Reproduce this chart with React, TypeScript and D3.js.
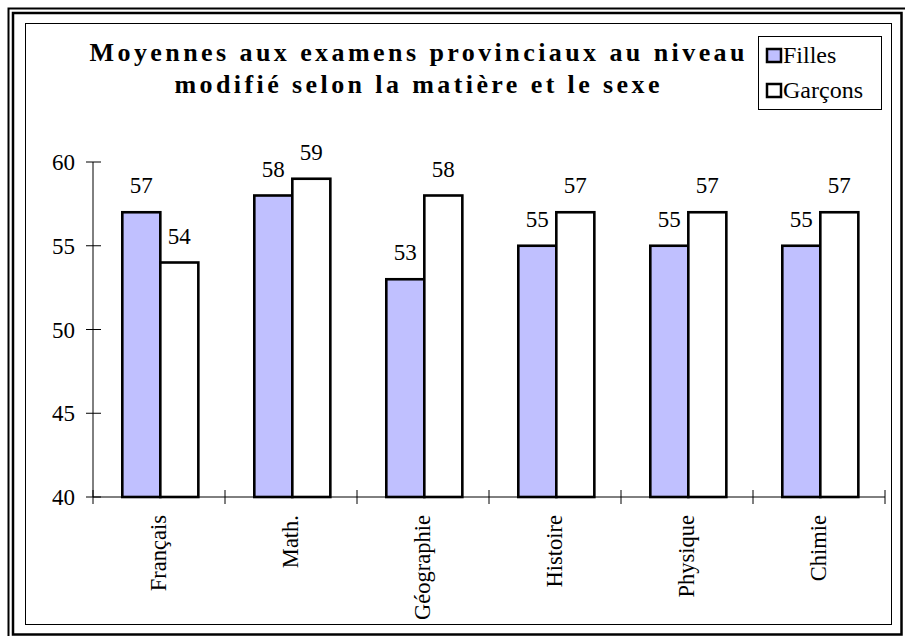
import React from "react";
import * as d3 from "d3";

const categories = ["Français", "Math.", "Géographie", "Histoire", "Physique", "Chimie"];
const filles = [57, 58, 53, 55, 55, 55];
const garcons = [54, 59, 58, 57, 57, 57];
const yTicks = [40, 45, 50, 55, 60];
const seriesNames = ["Filles", "Garçons"];
const seriesColors = ["#C0C0FF", "#FFFFFF"];
const titleLines = ["Moyennes aux examens provinciaux au niveau", "modifié selon la matière et le sexe"];

const W = 905;
const H = 636;
const FONT = "'Liberation Serif', 'Times New Roman', serif";

export default function App() {
  const plotLeft = 93;
  const plotRight = 885;
  const plotTop = 162;
  const plotBottom = 497;

  const x = d3.scaleBand<string>().domain(categories).range([plotLeft, plotRight]).paddingInner(0).paddingOuter(0);
  const y = d3.scaleLinear().domain([40, 60]).range([plotBottom, plotTop]);
  const bw = x.bandwidth();
  const inner = d3.scaleBand<number>().domain([0, 1]).range([bw * 0.222, bw * 0.798]).padding(0);

  const series = [filles, garcons];
  const txt = { fontFamily: FONT };

  return (
    <svg width={W} height={H} style={{ position: "absolute", left: 0, top: 0, background: "#fff" }}>
      <rect x={0} y={0} width={W} height={H} fill="#fff" />
      {/* outer frames */}
      <rect x={8.5} y={8.5} width={898} height={632} fill="none" stroke="#000" strokeWidth={2} />
      <rect x={13} y={13} width={888.5} height={621.5} fill="none" stroke="#000" strokeWidth={2.5} />
      <rect x={25.5} y={23.5} width={866} height={601} fill="none" stroke="#000" strokeWidth={1} />

      {/* title */}
      {titleLines.map((t, i) => (
        <text
          key={i}
          x={417}
          y={61 + i * 32}
          textAnchor="middle"
          style={{ ...txt, fontWeight: 700, fontSize: "26px" }}
          textLength={i === 0 ? 655 : 485}
          lengthAdjust="spacing"
        >
          {t}
        </text>
      ))}

      {/* legend */}
      <rect x={758.5} y={36.5} width={123} height={73} fill="#fff" stroke="#000" strokeWidth={1} />
      {seriesNames.map((s, i) => (
        <g key={s}>
          <rect x={767} y={49 + i * 35} width={14} height={13} fill={seriesColors[i]} stroke="#000" strokeWidth={2.5} />
          <text x={783} y={63 + i * 35} style={{ ...txt, fontSize: "24px" }}>
            {s}
          </text>
        </g>
      ))}

      {/* bars */}
      {categories.map((c, ci) => (
        <g key={c}>
          {series.map((vals, si) => {
            const bx = (x(c) as number) + (inner(si) as number);
            const by = y(vals[ci]);
            return (
              <g key={si}>
                <rect
                  x={bx}
                  y={by}
                  width={inner.bandwidth()}
                  height={plotBottom - by}
                  fill={seriesColors[si]}
                  stroke="#000"
                  strokeWidth={2.6}
                />
                <text
                  x={bx + inner.bandwidth() / 2}
                  y={by - 19}
                  textAnchor="middle"
                  style={{ ...txt, fontSize: "23px" }}
                >
                  {vals[ci]}
                </text>
              </g>
            );
          })}
        </g>
      ))}

      {/* y axis */}
      <line x1={plotLeft} x2={plotLeft} y1={plotTop} y2={plotBottom} stroke="#000" strokeWidth={1} />
      {yTicks.map((t) => (
        <g key={t}>
          <line x1={plotLeft - 7} x2={plotLeft + 8} y1={y(t)} y2={y(t)} stroke="#000" strokeWidth={1} />
          <text x={75} y={y(t)} dy="0.35em" textAnchor="end" style={{ ...txt, fontSize: "23px" }}>
            {t}
          </text>
        </g>
      ))}

      {/* x axis */}
      <line x1={plotLeft} x2={plotRight} y1={plotBottom} y2={plotBottom} stroke="#000" strokeWidth={1} />
      {[...categories.map((c) => x(c) as number), plotRight].map((tx, i) => (
        <line key={i} x1={tx} x2={tx} y1={plotBottom - 7} y2={plotBottom + 7} stroke="#000" strokeWidth={1} />
      ))}
      {categories.map((c) => {
        const cx = (x(c) as number) + bw / 2;
        return (
          <text
            key={c}
            transform={`translate(${cx},515) rotate(-90)`}
            textAnchor="end"
            dy="0.33em"
            style={{ ...txt, fontSize: "22.5px" }}
          >
            {c}
          </text>
        );
      })}
    </svg>
  );
}
